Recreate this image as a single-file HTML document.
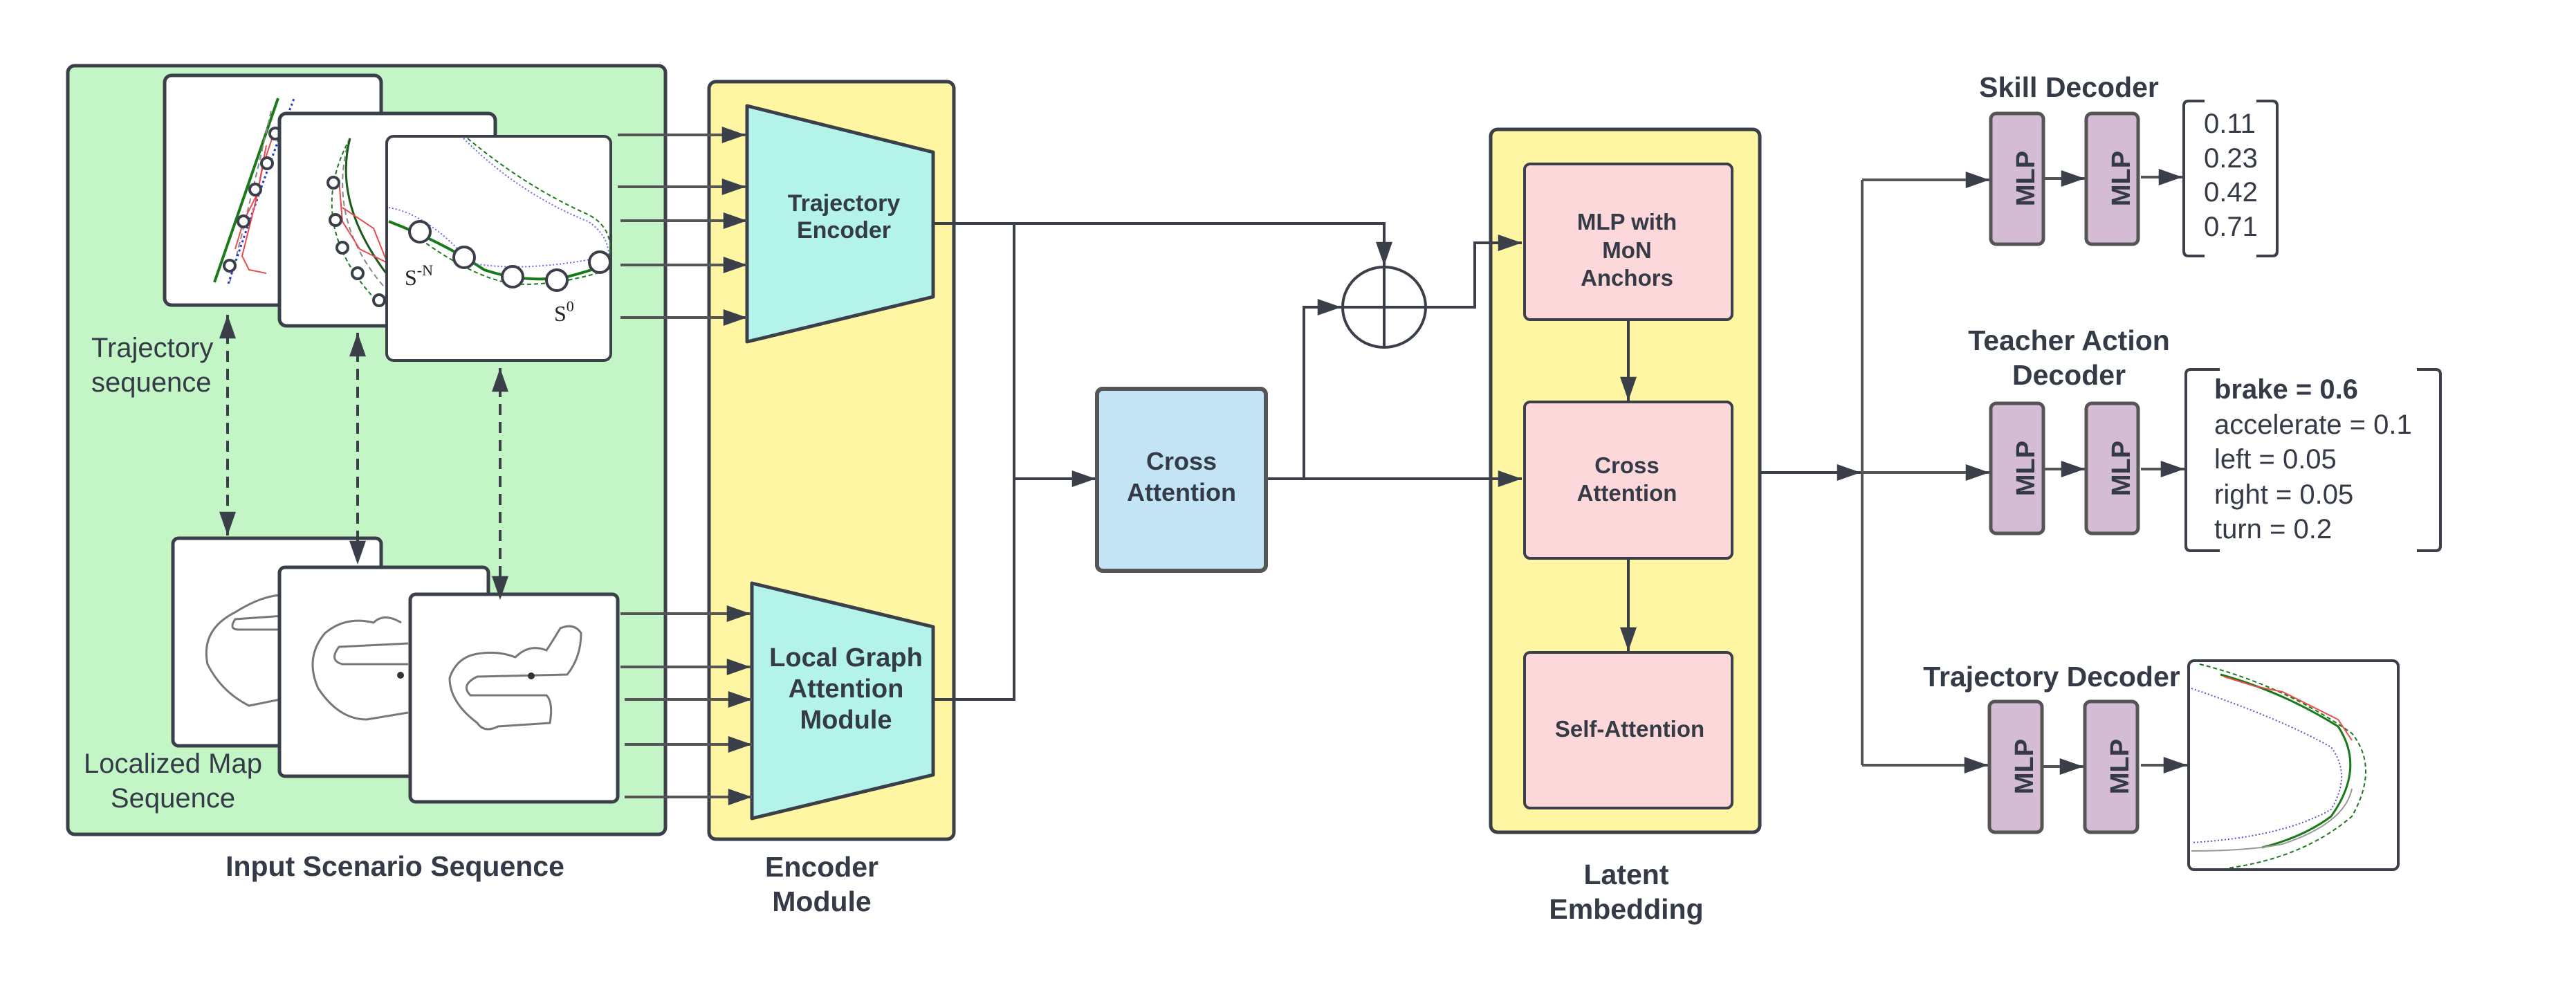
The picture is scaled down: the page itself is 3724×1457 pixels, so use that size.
<!DOCTYPE html>
<html><head><meta charset="utf-8"><style>
html,body{margin:0;padding:0;background:#fff}
svg{display:block}
text{font-family:"Liberation Sans",sans-serif;fill:#343a46}
.b{font-weight:bold}
</style></head><body>
<svg width="3724" height="1457" viewBox="0 0 3724 1457" xmlns="http://www.w3.org/2000/svg">
<defs>
<marker id="a" viewBox="0 0 20 14" refX="20" refY="7" markerWidth="36" markerHeight="24" orient="auto-start-reverse" markerUnits="userSpaceOnUse"><path d="M0,0 L20,7 L0,14 z" fill="#3a3f4a"/></marker>
</defs>
<g stroke="#3a3f4a" stroke-width="5" fill="none">
<rect x="98" y="95" width="864" height="1111" rx="10" fill="#c3f5c6"/>
<rect x="1025" y="118" width="354" height="1095" rx="10" fill="#fff6a3"/>
<rect x="2155" y="187" width="389" height="1016" rx="10" fill="#fff6a3"/>
</g>
<g stroke="#3a3f4a" stroke-width="5">
<rect x="238" y="109" width="313" height="332" rx="10" fill="#fff"/>
</g>
<g fill="none">
<path d="M310,408 L402,142" stroke="#1a7a1a" stroke-width="4"/>
<path d="M332,408 Q360,300 392,160" stroke="#888" stroke-width="2" stroke-dasharray="8,5"/>
<path d="M330,410 Q380,260 426,140" stroke="#2233dd" stroke-width="3" stroke-dasharray="3,4"/>
<path d="M395,195 L380,240 L370,290 L360,330 L350,370 L360,390 L385,395" stroke="#e84c4c" stroke-width="2"/>
<path d="M385,210 L372,280 L352,320 L340,360" stroke="#e84c4c" stroke-width="2"/>
</g>
<g fill="#fff" stroke="#3a3f4a" stroke-width="4">
<circle cx="332" cy="384" r="8"/><circle cx="352" cy="320" r="8"/><circle cx="369" cy="274" r="8"/><circle cx="386" cy="236" r="8"/><circle cx="398" cy="193" r="8"/>
</g>
<g stroke="#3a3f4a" stroke-width="5">
<rect x="404" y="164" width="312" height="307" rx="10" fill="#fff"/>
</g>
<g fill="none">
<path d="M506,200 Q440,320 540,430" stroke="#1a7a1a" stroke-width="2" stroke-dasharray="6,4"/>
<path d="M505,200 Q470,320 560,420" stroke="#888" stroke-width="2" stroke-dasharray="8,5"/>
<path d="M506,200 Q480,300 570,410" stroke="#1a5a1a" stroke-width="3"/>
<path d="M490,260 L495,320 L520,360 L560,380 L600,420 M495,300 L540,330 L560,380" stroke="#e84c4c" stroke-width="2"/>
</g>
<g fill="#fff" stroke="#3a3f4a" stroke-width="4">
<circle cx="482" cy="264" r="8"/><circle cx="485" cy="318" r="8"/><circle cx="495" cy="358" r="8"/><circle cx="517" cy="395" r="8"/><circle cx="548" cy="434" r="8"/>
</g>
<g stroke="#3a3f4a" stroke-width="4">
<rect x="559" y="197" width="324" height="324" rx="10" fill="#fff"/>
</g>
<g fill="none">
<path d="M676,200 Q760,270 850,310 Q890,330 881,380" stroke="#1a7a1a" stroke-width="2" stroke-dasharray="6,4"/>
<path d="M670,200 Q750,280 850,320 Q880,340 880,370" stroke="#6a6aee" stroke-width="2" stroke-dasharray="2,3"/>
<path d="M562,320 Q640,350 700,390 Q760,410 820,400 Q860,390 880,380" stroke="#1a7a1a" stroke-width="4"/>
<path d="M562,300 Q620,310 680,380 Q760,395 880,370" stroke="#6a6aee" stroke-width="2" stroke-dasharray="2,3"/>
<path d="M600,340 Q680,400 740,410 Q800,415 880,390" stroke="#1a7a1a" stroke-width="2" stroke-dasharray="6,4"/>
</g>
<g fill="#fff" stroke="#3a3f4a" stroke-width="4">
<circle cx="607" cy="335" r="15"/><circle cx="671" cy="372" r="15"/><circle cx="741" cy="400" r="15"/><circle cx="805" cy="405" r="15"/><circle cx="867" cy="379" r="15"/>
</g>
<text x="585" y="412" style="font-family:'Liberation Serif',serif;font-size:32px;fill:#222">S<tspan dy="-14" font-size="22">-N</tspan></text>
<text x="801" y="464" style="font-family:'Liberation Serif',serif;font-size:32px;fill:#222">S<tspan dy="-14" font-size="22">0</tspan></text>
<g stroke="#3a3f4a" stroke-width="5" fill="#fff">
<rect x="250" y="778" width="301" height="300" rx="8"/>
</g>
<path d="M410,860 Q380,860 340,885 Q290,910 300,960 Q320,1000 360,1020 L410,1010 M410,890 L340,895 Q330,910 345,910 L410,910" fill="none" stroke="#777" stroke-width="3"/>
<g stroke="#3a3f4a" stroke-width="5" fill="#fff">
<rect x="404" y="820" width="302" height="302" rx="8"/>
</g>
<path d="M580,900 Q555,885 540,900 Q500,890 470,915 Q440,950 460,995 Q490,1040 530,1040 L590,1030 M590,930 L490,935 Q475,955 495,960 L590,960" fill="none" stroke="#777" stroke-width="3"/>
<circle cx="579" cy="976" r="5" fill="#333"/>
<g stroke="#3a3f4a" stroke-width="5" fill="#fff">
<rect x="593" y="859" width="300" height="300" rx="8"/>
</g>
<path d="M810,908 Q830,900 840,915 Q840,950 820,975 L690,978 Q665,990 680,1005 L790,1005 Q800,1015 795,1045 L720,1050 Q700,1060 690,1045 Q650,1015 650,980 Q660,950 690,945 Q720,940 745,950 Q765,930 790,940 Q800,925 810,908 Z" fill="none" stroke="#777" stroke-width="3"/>
<circle cx="768" cy="977" r="5" fill="#333"/>
<text x="132" y="516" font-size="40">Trajectory</text>
<text x="132" y="566" font-size="40">sequence</text>
<text x="250" y="1117" font-size="40" text-anchor="middle">Localized Map</text>
<text x="250" y="1167" font-size="40" text-anchor="middle">Sequence</text>
<g stroke="#3a3f4a" stroke-width="4" stroke-dasharray="16,10" fill="none">
<line x1="329" y1="455" x2="329" y2="774" marker-start="url(#a)" marker-end="url(#a)"/>
<line x1="517" y1="481" x2="517" y2="816" marker-start="url(#a)" marker-end="url(#a)"/>
<line x1="723" y1="532" x2="723" y2="867" marker-start="url(#a)" marker-end="url(#a)"/>
</g>
<g stroke="#3a3f4a" stroke-width="5">
<path d="M1080,153 L1349,220 L1349,429 L1080,494 Z" fill="#b3f3e9" stroke-linejoin="round"/>
<path d="M1087,843 L1349,906 L1349,1120 L1087,1183 Z" fill="#b3f3e9" stroke-linejoin="round"/>
</g>
<text x="1220" y="305" font-size="34" class="b" text-anchor="middle">Trajectory</text>
<text x="1220" y="344" font-size="34" class="b" text-anchor="middle">Encoder</text>
<text x="1223" y="963" font-size="38" class="b" text-anchor="middle">Local Graph</text>
<text x="1223" y="1008" font-size="38" class="b" text-anchor="middle">Attention</text>
<text x="1223" y="1053" font-size="38" class="b" text-anchor="middle">Module</text>
<g stroke="#555" stroke-width="4">
<line x1="893" y1="195" x2="1078" y2="195" marker-end="url(#a)"/>
<line x1="893" y1="270" x2="1078" y2="270" marker-end="url(#a)"/>
<line x1="897" y1="319" x2="1080" y2="319" marker-end="url(#a)"/>
<line x1="897" y1="383" x2="1080" y2="383" marker-end="url(#a)"/>
<line x1="897" y1="459" x2="1080" y2="459" marker-end="url(#a)"/>
<line x1="897" y1="887" x2="1085" y2="887" marker-end="url(#a)"/>
<line x1="897" y1="964" x2="1085" y2="964" marker-end="url(#a)"/>
<line x1="903" y1="1011" x2="1087" y2="1011" marker-end="url(#a)"/>
<line x1="903" y1="1076" x2="1087" y2="1076" marker-end="url(#a)"/>
<line x1="903" y1="1152" x2="1087" y2="1152" marker-end="url(#a)"/>
</g>
<text x="571" y="1266" font-size="41" class="b" text-anchor="middle">Input Scenario Sequence</text>
<text x="1188" y="1267" font-size="41" class="b" text-anchor="middle">Encoder</text>
<text x="1188" y="1317" font-size="41" class="b" text-anchor="middle">Module</text>
<g stroke="#3a3f4a" stroke-width="4" fill="none">
<path d="M1349,323 L2001,323 L2001,384" marker-end="url(#a)"/>
<path d="M1466,323 L1466,692 L1584,692" marker-end="url(#a)"/>
<path d="M1349,1011 L1466,1011 L1466,692"/>
<path d="M1830,692 L1885,692 L1885,444 L1939,444" marker-end="url(#a)"/>
<path d="M1830,692 L2200,692" marker-end="url(#a)"/>
<path d="M2063,444 L2132,444 L2132,351 L2200,351" marker-end="url(#a)"/>
<ellipse cx="2001" cy="444" rx="60" ry="58" fill="#fff"/>
<line x1="1941" y1="444" x2="2061" y2="444"/>
<line x1="2001" y1="386" x2="2001" y2="502"/>
<path d="M2354,462 L2354,579" marker-end="url(#a)"/>
<path d="M2354,807 L2354,941" marker-end="url(#a)"/>
<path d="M2544,683 L2690,683" marker-end="url(#a)"/>
</g>
<rect x="1586" y="562" width="244" height="263" rx="8" fill="#c2e4f5" stroke="#555" stroke-width="6"/>
<text x="1708" y="679" font-size="36" class="b" text-anchor="middle">Cross</text>
<text x="1708" y="724" font-size="36" class="b" text-anchor="middle">Attention</text>
<g fill="#fdd8da" stroke="#3a3f4a" stroke-width="4">
<rect x="2204" y="237" width="300" height="225" rx="8"/>
<rect x="2204" y="581" width="300" height="226" rx="8"/>
<rect x="2204" y="943" width="300" height="225" rx="8"/>
</g>
<text x="2352" y="332" font-size="33" class="b" text-anchor="middle">MLP with</text>
<text x="2352" y="373" font-size="33" class="b" text-anchor="middle">MoN</text>
<text x="2352" y="413" font-size="33" class="b" text-anchor="middle">Anchors</text>
<text x="2352" y="684" font-size="33" class="b" text-anchor="middle">Cross</text>
<text x="2352" y="724" font-size="33" class="b" text-anchor="middle">Attention</text>
<text x="2356" y="1065" font-size="33" class="b" text-anchor="middle">Self-Attention</text>
<text x="2351" y="1278" font-size="41" class="b" text-anchor="middle">Latent</text>
<text x="2351" y="1328" font-size="41" class="b" text-anchor="middle">Embedding</text>
<g stroke="#555" stroke-width="4" fill="none">
<path d="M2692,260 L2692,1106"/>
<path d="M2692,260 L2876,260" marker-end="url(#a)"/>
<path d="M2692,683 L2876,683" marker-end="url(#a)"/>
<path d="M2692,1106 L2874,1106" marker-end="url(#a)"/>
<path d="M2954,258 L3014,258" marker-end="url(#a)"/>
<path d="M2954,678 L3014,678" marker-end="url(#a)"/>
<path d="M2954,1108 L3012,1108" marker-end="url(#a)"/>
<path d="M3095,256 L3155,256" marker-end="url(#a)"/>
<path d="M3095,678 L3158,678" marker-end="url(#a)"/>
<path d="M3095,1106 L3162,1106" marker-end="url(#a)"/>
</g>
<g fill="#d4bdd4" stroke="#555" stroke-width="5">
<rect x="2878" y="164" width="76" height="189" rx="8"/>
<rect x="3016" y="164" width="75" height="189" rx="8"/>
<rect x="2878" y="583" width="76" height="188" rx="8"/>
<rect x="3016" y="583" width="75" height="188" rx="8"/>
<rect x="2876" y="1014" width="76" height="189" rx="8"/>
<rect x="3014" y="1014" width="76" height="189" rx="8"/>
</g>
<g font-size="38" class="b" text-anchor="middle">
<text transform="translate(2928,258) rotate(-90)" y="13">MLP</text>
<text transform="translate(3066,258) rotate(-90)" y="13">MLP</text>
<text transform="translate(2928,677) rotate(-90)" y="13">MLP</text>
<text transform="translate(3066,677) rotate(-90)" y="13">MLP</text>
<text transform="translate(2926,1108) rotate(-90)" y="13">MLP</text>
<text transform="translate(3064,1108) rotate(-90)" y="13">MLP</text>
</g>
<text x="2991" y="140" font-size="41" class="b" text-anchor="middle">Skill Decoder</text>
<text x="2991" y="506" font-size="41" class="b" text-anchor="middle">Teacher Action</text>
<text x="2991" y="556" font-size="41" class="b" text-anchor="middle">Decoder</text>
<text x="2966" y="992" font-size="41" class="b" text-anchor="middle">Trajectory Decoder</text>
<g stroke="#3a3f4a" stroke-width="4" fill="none">
<path d="M3187,146 L3164,146 Q3157,146 3157,153 L3157,363 Q3157,370 3164,370 L3187,370"/>
<path d="M3262,146 L3285,146 Q3292,146 3292,153 L3292,363 Q3292,370 3285,370 L3262,370"/>
<path d="M3209,534 L3167,534 Q3160,534 3160,541 L3160,789 Q3160,796 3167,796 L3209,796"/>
<path d="M3494,534 L3521,534 Q3528,534 3528,541 L3528,789 Q3528,796 3521,796 L3494,796"/>
</g>
<g font-size="40">
<text x="3186" y="192">0.11</text>
<text x="3186" y="242">0.23</text>
<text x="3186" y="291">0.42</text>
<text x="3186" y="341">0.71</text>
<text x="3201" y="576" class="b">brake = 0.6</text>
<text x="3201" y="627">accelerate = 0.1</text>
<text x="3201" y="677">left = 0.05</text>
<text x="3201" y="728">right = 0.05</text>
<text x="3201" y="778">turn = 0.2</text>
</g>
<rect x="3164" y="955" width="303" height="302" rx="8" fill="#fff" stroke="#3a3f4a" stroke-width="4"/>
<g fill="none">
<path d="M3180,960 Q3300,990 3400,1060 Q3440,1110 3400,1180 Q3330,1240 3220,1255" stroke="#1a7a1a" stroke-width="2" stroke-dasharray="6,4"/>
<path d="M3210,975 Q3300,1000 3380,1050 Q3420,1110 3370,1180 Q3330,1210 3270,1225" stroke="#1a7a1a" stroke-width="3"/>
<path d="M3168,995 Q3300,1040 3370,1080 Q3400,1120 3370,1170 Q3300,1210 3168,1218" stroke="#5555cc" stroke-width="2" stroke-dasharray="2,3"/>
<path d="M3168,1230 Q3250,1230 3300,1220 Q3390,1190 3400,1140" stroke="#999" stroke-width="2"/>
<path d="M3215,978 L3260,992 L3300,1000 L3340,1020 L3380,1040 L3400,1070" stroke="#e84c4c" stroke-width="2"/>
</g>
</svg>
</body></html>
